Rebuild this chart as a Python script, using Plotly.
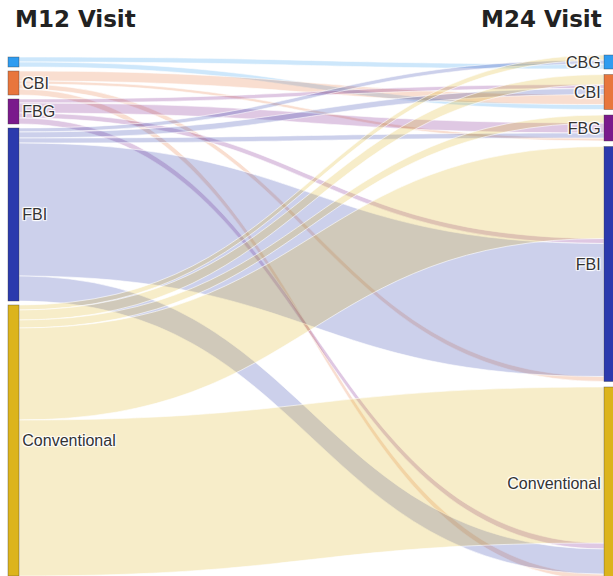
import plotly.graph_objects as go

# M12 -> M24 transitions
categories = ["CBG", "CBI", "FBG", "FBI", "Conventional"]
left_labels = ["", "CBI", "FBG", "FBI", "Conventional"]
right_labels = ["CBG", "CBI", "FBG", "FBI", "Conventional"]
node_colors = ["#2f9cf0", "#e8763c", "#7a1a8c", "#2b3aad", "#dcb41c"]

link_source = [0, 0, 1, 1, 1, 1, 2, 2, 2, 2, 3, 3, 3, 3, 3, 4, 4, 4, 4, 4]
link_target = [0, 1, 1, 2, 3, 4, 1, 2, 3, 4, 0, 1, 2, 3, 4, 0, 1, 2, 3, 4]
link_value = [5, 5, 10, 3, 5, 6, 4, 10, 5, 6, 4, 6, 5, 133, 25, 5, 10, 8, 92, 156]

# order in which incoming flows stack on the M24 nodes (top to bottom)
arrival_order = [4, 2, 3, 1, 0]

W, H_FIG = 613, 576
M_T, M_B = 55, 18
H = H_FIG - M_T - M_B
THICK = 11
XL, XR = 13.5 / W, 609.5 / W
LEFT_TOP, LEFT_GAP = 2, 4
RIGHT_TOP, RIGHT_GAP = 0, 5.5

n = len(categories)
total = sum(link_value)
ky = H / total

out_tot = [sum(v for s, v in zip(link_source, link_value) if s == i) for i in range(n)]
in_tot = [sum(v for t, v in zip(link_target, link_value) if t == i) for i in range(n)]


def stack(start, gap, sizes):
    tops, y = [], start
    for s in sizes:
        tops.append(y)
        y += s * ky + gap
    return tops


left_top = stack(LEFT_TOP, LEFT_GAP, out_tot)
right_top = stack(RIGHT_TOP, RIGHT_GAP, in_tot)

# main nodes (visible), links hidden
main_x = [XL] * n + [XR] * n
main_y = [(left_top[i] + out_tot[i] * ky / 2) / H for i in range(n)] + \
         [(right_top[i] + in_tot[i] * ky / 2) / H for i in range(n)]


def rgba(hex_color, a):
    h = hex_color.lstrip("#")
    return "rgba(%d,%d,%d,%.2f)" % (int(h[0:2], 16), int(h[2:4], 16), int(h[4:6], 16), a)


# each flow gets its own pair of hidden end nodes, so the stacking order is controlled
k_idx = range(len(link_value))
src_off = {}
for i in range(n):
    y = left_top[i]
    for k in sorted([k for k in k_idx if link_source[k] == i], key=lambda k: link_target[k]):
        src_off[k] = y
        y += link_value[k] * ky
tgt_off = {}
for j in range(n):
    y = right_top[j]
    for k in sorted([k for k in k_idx if link_target[k] == j], key=lambda k: arrival_order.index(link_source[k])):
        tgt_off[k] = y
        y += link_value[k] * ky

sub_x, sub_y, sub_s, sub_t, sub_v, sub_c = [], [], [], [], [], []
for k in k_idx:
    h = link_value[k] * ky
    sub_x += [XL, XR]
    sub_y += [(src_off[k] + h / 2) / H, (tgt_off[k] + h / 2) / H]
    sub_s.append(2 * k)
    sub_t.append(2 * k + 1)
    sub_v.append(link_value[k])
    sub_c.append(rgba(node_colors[link_source[k]], 0.24))

fig = go.Figure()

fig.add_trace(go.Sankey(
    arrangement="fixed",
    hoverinfo="none",
    node=dict(
        pad=0,
        thickness=THICK,
        x=sub_x,
        y=sub_y,
        label=[""] * len(sub_x),
        color="rgba(0,0,0,0)",
        line=dict(width=0),
    ),
    link=dict(
        source=sub_s,
        target=sub_t,
        value=sub_v,
        color=sub_c,
        line=dict(color="white", width=0.6),
    ),
))

fig.add_trace(go.Sankey(
    arrangement="fixed",
    hoverinfo="none",
    textfont=dict(family="Liberation Sans, Arial", size=16, color="#333"),
    node=dict(
        pad=0,
        thickness=THICK,
        x=main_x,
        y=main_y,
        label=left_labels + right_labels,
        color=node_colors + node_colors,
        line=dict(color="rgba(60,60,60,0.6)", width=0.6),
    ),
    link=dict(
        source=link_source,
        target=[t + n for t in link_target],
        value=link_value,
        color="rgba(0,0,0,0)",
    ),
))

title_y = (H_FIG - M_B - 19) / H
fig.add_annotation(text="<b>M12 Visit</b>", x=13 / W, y=title_y, xref="paper", yref="paper",
                   xanchor="left", yanchor="middle", showarrow=False,
                   font=dict(family="DejaVu Sans", size=23, color="#222"))
fig.add_annotation(text="<b>M24 Visit</b>", x=604 / W, y=title_y, xref="paper", yref="paper",
                   xanchor="right", yanchor="middle", showarrow=False,
                   font=dict(family="DejaVu Sans", size=23, color="#222"))

fig.update_layout(
    width=W,
    height=H_FIG,
    margin=dict(l=0, r=0, t=M_T, b=M_B),
    paper_bgcolor="white",
    showlegend=False,
)

fig.write_html("out.html", config={"displayModeBar": False},
               post_script="document.body.style.margin='0px'; document.body.style.overflow='hidden';")
